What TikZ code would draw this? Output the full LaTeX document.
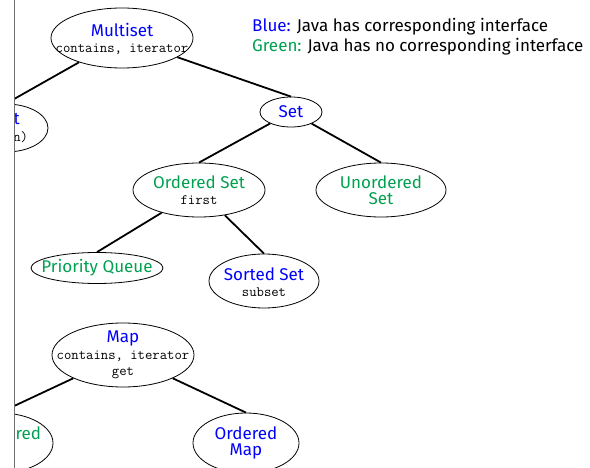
\documentclass[tikz,border=0pt]{standalone}
\usepackage{fontspec}
\setmainfont{Fira Sans}
\usetikzlibrary{shapes.geometric}
\definecolor{jblue}{RGB}{0,0,255}
\definecolor{jgreen}{RGB}{0,160,80}
\definecolor{edgegray}{RGB}{110,110,110}
\newcommand{\JMeth}[1]{{\fontsize{14.3}{14}\selectfont\ttfamily #1}}
\begin{document}
\begin{tikzpicture}[x=1pt,y=-1pt,
  ell/.style={ellipse, draw, line width=0.8pt, inner sep=0pt},
  lbl/.style={inner sep=0pt, align=center, font=\fontsize{17}{16.5}\selectfont},
  link/.style={line width=1.8pt},
  legend/.style={anchor=west, inner sep=0pt, font=\fontsize{17}{17}\selectfont}]
\useasboundingbox (0,0) rectangle (590,468);
\begin{scope}
\clip (14.5,0) rectangle (590,468);
\node[ell, minimum width=142pt, minimum height=60pt] (multiset) at (122,38) {};
\node[lbl] (multisetlbl) at ([yshift=-1pt]multiset.center) {\textcolor{jblue}{Multiset}\\\JMeth{contains, iterator}};
\node[ell, minimum width=84pt, minimum height=48pt] (list) at (6,128) {};
\node[lbl] (listlbl) at (list) {\textcolor{jblue}{List}\\\JMeth{get(n)}};
\node[ell, minimum width=62pt, minimum height=30pt] (set) at (291,112) {};
\node[lbl, text=jblue] (setlbl) at (set) {Set};
\node[ell, minimum width=132pt, minimum height=54pt] (oset) at (199,190) {};
\node[lbl] (osetlbl) at (oset) {\textcolor{jgreen}{Ordered Set}\\\JMeth{first}};
\node[ell, minimum width=130pt, minimum height=54pt] (uset) at (381,190) {};
\node[lbl, text=jgreen] (usetlbl) at (uset) {Unordered\\Set};
\node[ell, minimum width=132pt, minimum height=31pt] (pq) at (97,268) {};
\node[lbl, text=jgreen] (pqlbl) at (pq) {Priority Queue};
\node[ell, minimum width=110pt, minimum height=54pt] (sset) at (264,281) {};
\node[lbl] (ssetlbl) at ([yshift=-1pt]sset.center) {\textcolor{jblue}{Sorted Set}\\\JMeth{subset}};
\node[ell, minimum width=142pt, minimum height=64pt] (map) at (123,355) {};
\node[lbl] (maplbl) at (map) {\textcolor{jblue}{Map}\\\JMeth{contains, iterator}\\\JMeth{get}};
\node[ell, minimum width=106pt, minimum height=60pt] (umap) at (0,443) {};
\node[lbl, text=jgreen] (umaplbl) at (umap) {Unordered\\Map};
\node[ell, minimum width=106pt, minimum height=60pt] (omap) at (246,443) {};
\node[lbl, text=jblue] (omaplbl) at (omap) {Ordered\\Map};
\draw[link] (multiset) -- (list.north);
\draw[link] (multiset) -- (set.north);
\draw[link] (set) -- (oset.north);
\draw[link] (set) -- (uset.north);
\draw[link] (oset) -- (pq.north);
\draw[link] (oset) -- (sset.north);
\draw[link] (map) -- (umap.north);
\draw[link] (map) -- (omap.north);
\end{scope}
\coordinate (bordertop) at (14.5,0);
\coordinate (borderbot) at (14.5,468);
\draw[edgegray, line width=1.2pt] (bordertop) -- (borderbot);
\node[legend] (leg1) at (252,27) {\textcolor{jblue}{Blue:} Java has corresponding interface};
\node[legend] (leg2) at (252,47) {\textcolor{jgreen}{Green:} Java has no corresponding interface};
\end{tikzpicture}
\end{document}
